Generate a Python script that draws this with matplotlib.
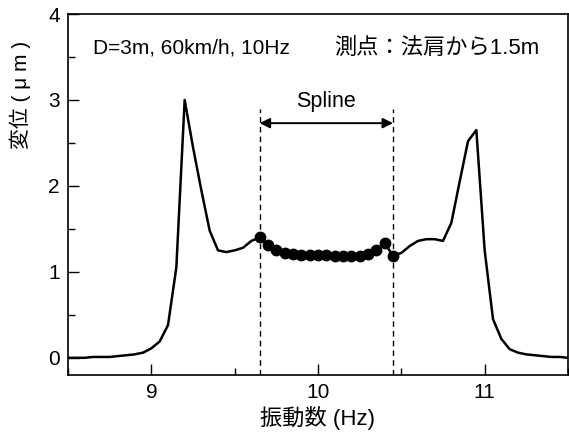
import matplotlib
matplotlib.use('Agg')
import matplotlib.pyplot as plt
from matplotlib.ticker import MultipleLocator

plt.rcParams['font.family'] = ['Liberation Sans', 'Noto Sans CJK JP', 'DejaVu Sans']

# frequency (Hz) and displacement (um)
freq = [8.50, 8.55, 8.60, 8.65, 8.70, 8.75, 8.80, 8.85, 8.90, 8.95,
        9.00, 9.05, 9.10, 9.15, 9.20, 9.25, 9.30, 9.35, 9.40, 9.45,
        9.50, 9.55, 9.60, 9.65, 9.70, 9.75, 9.80, 9.85, 9.90, 9.95,
        10.00, 10.05, 10.10, 10.15, 10.20, 10.25, 10.30, 10.35, 10.40, 10.45,
        10.50, 10.55, 10.60, 10.65, 10.70, 10.75, 10.80, 10.85, 10.90, 10.95,
        11.00, 11.05, 11.10, 11.15, 11.20, 11.25, 11.30, 11.35, 11.40, 11.45,
        11.50]
disp = [0.00, 0.00, 0.00, 0.01, 0.01, 0.01, 0.02, 0.03, 0.04, 0.06,
        0.11, 0.19, 0.38, 1.05, 3.00, 2.45, 1.95, 1.48, 1.25, 1.23,
        1.25, 1.28, 1.36, 1.40, 1.31, 1.26, 1.22, 1.21, 1.20, 1.20,
        1.20, 1.20, 1.19, 1.19, 1.18, 1.19, 1.21, 1.25, 1.33, 1.19,
        1.22, 1.30, 1.36, 1.38, 1.38, 1.36, 1.57, 2.05, 2.52, 2.65,
        1.25, 0.45, 0.22, 0.10, 0.06, 0.04, 0.03, 0.02, 0.01, 0.01,
        0.00]

# spline range
spline_lo, spline_hi = 9.65, 10.45

cond_text = 'D=3m, 60km/h, 10Hz'
point_text = '測点：法肩から1.5m'
xlabel = '振動数 (Hz)'
ylabel = '変位 ( μ m )'

fig = plt.figure(figsize=(5.69, 4.41), dpi=100)
ax = fig.add_axes([68 / 569, 66 / 441, 500 / 569, 361 / 441])

ax.plot(freq, disp, color='black', lw=1.8, zorder=3)
sp_x = [f for f in freq if spline_lo - 1e-6 <= f <= spline_hi + 1e-6]
sp_y = [d for f, d in zip(freq, disp) if spline_lo - 1e-6 <= f <= spline_hi + 1e-6]
ax.plot(sp_x, sp_y, 'o', color='black', ms=7.5, zorder=4)

ax.vlines([spline_lo, spline_hi], -0.2, 2.9, colors='black',
          linestyles=(0, (4, 3)), lw=1.0)
ax.annotate('', xy=(spline_lo, 2.73), xytext=(spline_hi, 2.73),
            arrowprops=dict(arrowstyle='<|-|>', color='black', lw=1.4,
                            shrinkA=0, shrinkB=0, mutation_scale=15))
ax.text((spline_lo + spline_hi) / 2, 2.86, 'Spline', ha='center', va='bottom',
        fontsize=15.5)

ax.text(8.649, 3.6, cond_text, ha='left', va='center', fontsize=15)
ax.text(10.096, 3.6, point_text, ha='left', va='center', fontsize=16)

ax.set_xlim(8.5, 11.5)
ax.set_ylim(-0.2, 4.0)
ax.xaxis.set_major_locator(MultipleLocator(1))
ax.xaxis.set_minor_locator(MultipleLocator(0.5))
ax.yaxis.set_major_locator(MultipleLocator(1))
ax.yaxis.set_minor_locator(MultipleLocator(0.5))
ax.tick_params(which='both', direction='in', top=False, right=False,
               labelsize=15, width=1.0)
ax.tick_params(which='major', length=8, pad=6)
ax.tick_params(which='minor', length=5)

ax.set_xlabel(xlabel, fontsize=16, labelpad=3)
ax.set_ylabel(ylabel, fontsize=15)
ax.yaxis.set_label_coords(-0.074, 0.776)

for s in ax.spines.values():
    s.set_linewidth(1.2)

fig.savefig('out.png', dpi=100)
